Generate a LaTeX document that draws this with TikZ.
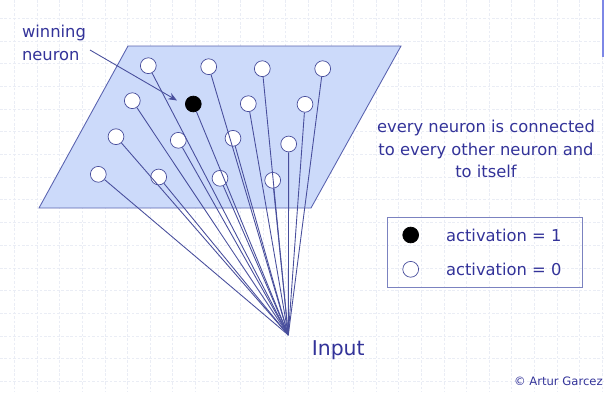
\documentclass[tikz,border=0pt]{standalone}
\usepackage{fontspec}
\setmainfont{DejaVu Sans}
\usetikzlibrary{arrows.meta}

\definecolor{slidetext}{RGB}{51,51,153}
\definecolor{planefill}{RGB}{204,218,250}
\definecolor{planeline}{RGB}{90,99,176}
\definecolor{wireline}{RGB}{72,78,156}
\definecolor{gridline}{RGB}{234,237,245}
\definecolor{slidebar}{RGB}{125,135,230}

\tikzset{
  neuron/.style={draw=wireline,circle,line width=0.4pt,minimum size=9pt,inner sep=0pt,fill=white},
  winner/.style={neuron,fill=black,draw=black},
  wire/.style={-,line width=0.5pt,color=wireline},
  label/.style={text=slidetext,font=\fontsize{9.3}{13}\selectfont,inner sep=0pt},
}

\begin{document}
\begin{tikzpicture}[x=0.02cm,y=-0.02cm]
    \useasboundingbox (0,0) rectangle (613,403);

    % background grid
    \foreach \gx in {0,...,26}
      \draw[gridline,line width=0.5pt,dash pattern=on 1.5pt off 1pt] (14.7+22.6*\gx,0) -- (14.7+22.6*\gx,392);
    \foreach \gy in {0,...,16}
      \draw[gridline,line width=0.5pt,dash pattern=on 1.5pt off 1pt] (0,18.3+22.7*\gy) -- (606,18.3+22.7*\gy);
    \draw[slidebar,line width=0.8pt] (603,0) -- (603,57);

    % plane
    \draw[planeline,fill=planefill,line width=0.5pt] (128,46) -- (401,46) -- (311,208) -- (39,208) -- cycle;

    \coordinate (in) at (288.3,335);

    \node  (0) at (98.3,174.3)  [neuron] {};
    \node  (1) at (158.7,177)   [neuron] {};
    \node  (2) at (220,178.3)   [neuron] {};
    \node  (3) at (272.7,180.3) [neuron] {};
    \node  (4) at (116,136.7)   [neuron] {};
    \node  (5) at (178.3,140.3) [neuron] {};
    \node  (6) at (233,138.3)   [neuron] {};
    \node  (7) at (288.7,144)   [neuron] {};
    \node  (8) at (132.3,100.7) [neuron] {};
    \node  (9) at (193.3,104)   [winner] {};
    \node (10) at (248.3,103.7) [neuron] {};
    \node (11) at (305,104.3)   [neuron] {};
    \node (12) at (148.3,65.7)  [neuron] {};
    \node (13) at (208.7,66.7)  [neuron] {};
    \node (14) at (262.3,68.7)  [neuron] {};
    \node (15) at (322.7,68.7)  [neuron] {};

    \draw[wire]  (0) to (in);
    \draw[wire]  (1) to (in);
    \draw[wire]  (2) to (in);
    \draw[wire]  (3) to (in);
    \draw[wire]  (4) to (in);
    \draw[wire]  (5) to (in);
    \draw[wire]  (6) to (in);
    \draw[wire]  (7) to (in);
    \draw[wire]  (8) to (in);
    \draw[wire]  (9) to (in);
    \draw[wire] (10) to (in);
    \draw[wire] (11) to (in);
    \draw[wire] (12) to (in);
    \draw[wire] (13) to (in);
    \draw[wire] (14) to (in);
    \draw[wire] (15) to (in);

    \node (input) at (311.5,350) [label,anchor=west,font=\fontsize{11.6}{14}\selectfont] {Input};

    % labels
    \node (winlabel) at (21.7,42.5) [label,anchor=west,align=left] {winning\\neuron};
    \coordinate (winstart) at (90,50);
    \coordinate (winend) at (177,100.5);
    \draw[wire,-{Stealth[length=5pt,width=4pt]}] (winstart) to (winend);

    \node (note) at (486,149) [label,align=center] {every neuron is connected\\to every other neuron and\\to itself};

    % legend
    \draw[planeline!80,line width=0.5pt] (387.3,217.3) rectangle (582.3,287);
    \node (onekey)  at (410.7,235)   [winner] {};
    \node (zerokey) at (410.7,269.3) [neuron] {};
    \node (onetext)  at (445.7,235)   [label,anchor=west] {activation = 1};
    \node (zerotext) at (445.7,269.3) [label,anchor=west] {activation = 0};

    \node (credit) at (603,381.5) [label,anchor=east,font=\fontsize{6.6}{8}\selectfont] {© Artur Garcez};
\end{tikzpicture}
\end{document}
